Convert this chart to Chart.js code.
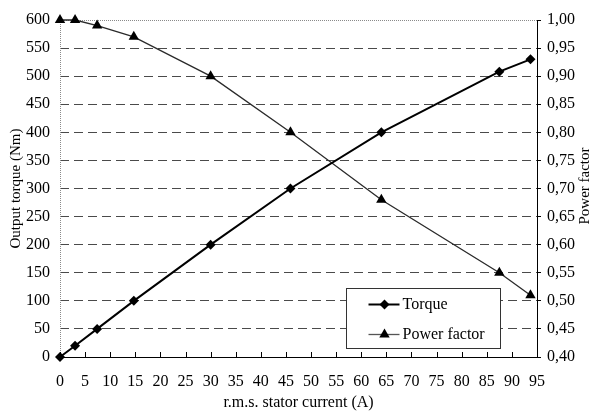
<!DOCTYPE html>
<html>
<head>
<meta charset="utf-8">
<script src="https://cdn.jsdelivr.net/npm/chart.js@4/dist/chart.umd.min.js"></script>
<style>
  html, body { margin: 0; padding: 0; background: #fff; }
  #wrap { width: 594px; height: 415px; }
</style>
</head>
<body>
<div id="wrap"><canvas id="motorChart" width="594" height="415"></canvas></div>
<script>
// stator current (A) shared by both curves
var current = [0, 3, 7.4, 14.7, 30, 45.9, 64, 87.5, 93.7];
var torque = [0, 20, 50, 100, 200, 300, 400, 508, 530];
var powerFactor = [1.00, 1.00, 0.99, 0.97, 0.90, 0.80, 0.68, 0.55, 0.51];
var seriesNames = ['Torque', 'Power factor'];
var rightTitle = 'Power factor';

var serif = "'Liberation Serif', 'Times New Roman', serif";
var fontSize = 16;

function points(ys) {
    var out = [];
    for (var i = 0; i < current.length; i++) {
        out.push({ x: current[i], y: ys[i] });
    }
    return out;
}

// dotted left edge, dotted top edge and inward ticks on the x axis
var frameLines = {
    id: 'frameLines',
    beforeDatasetsDraw: function(chart) {
        var ctx = chart.ctx, a = chart.chartArea, xs = chart.scales.x;
        ctx.save();
        ctx.strokeStyle = '#8a8a8a';
        ctx.lineWidth = 1;
        ctx.setLineDash([1, 1]);
        ctx.beginPath();
        ctx.moveTo(a.left + 0.5, a.top);
        ctx.lineTo(a.left + 0.5, a.bottom);
        ctx.moveTo(a.left, a.top + 0.5);
        ctx.lineTo(a.right, a.top + 0.5);
        ctx.stroke();
        ctx.setLineDash([]);
        ctx.strokeStyle = '#000';
        ctx.beginPath();
        xs.ticks.forEach(function(t) {
            var px = Math.round(xs.getPixelForValue(t.value)) + 0.5;
            ctx.moveTo(px, a.bottom);
            ctx.lineTo(px, a.bottom - 5);
        });
        ctx.stroke();
        ctx.restore();
    }
};

function marker(ctx, style, x, y) {
    ctx.beginPath();
    if (style === 'rectRot') {
        ctx.moveTo(x, y - 5); ctx.lineTo(x + 5, y); ctx.lineTo(x, y + 5); ctx.lineTo(x - 5, y);
    } else {
        ctx.moveTo(x, y - 6); ctx.lineTo(x + 5.2, y + 3); ctx.lineTo(x - 5.2, y + 3);
    }
    ctx.closePath();
    ctx.fill();
}

// boxed legend inside the plot (lower right) and the right axis title read bottom-to-top
var boxLegend = {
    id: 'boxLegend',
    afterDraw: function(chart) {
        var ctx = chart.ctx, a = chart.chartArea;
        var bx = a.left + 286.5, by = a.top + 268.5, bw = 154, bh = 60;
        ctx.save();
        ctx.fillStyle = '#fff';
        ctx.fillRect(bx, by, bw, bh);
        ctx.strokeStyle = '#333';
        ctx.lineWidth = 1;
        ctx.strokeRect(bx, by, bw, bh);
        var rows = [by + 16, by + 46];
        var styles = ['rectRot', 'triangle'];
        var colors = ['#000', '#555'];
        var widths = [2, 1.3];
        ctx.font = fontSize + 'px ' + serif;
        ctx.textBaseline = 'middle';
        for (var i = 0; i < 2; i++) {
            ctx.strokeStyle = colors[i];
            ctx.lineWidth = widths[i];
            ctx.beginPath();
            ctx.moveTo(bx + 22, rows[i]);
            ctx.lineTo(bx + 53, rows[i]);
            ctx.stroke();
            ctx.fillStyle = '#000';
            marker(ctx, styles[i], bx + 38, rows[i]);
            ctx.fillText(seriesNames[i], bx + 56, rows[i]);
        }
        ctx.font = '15px ' + serif;
        ctx.translate(585, 186);
        ctx.rotate(-Math.PI / 2);
        ctx.textAlign = 'center';
        ctx.fillText(rightTitle, 0, 0);
        ctx.restore();
    }
};

var ctx1 = document.getElementById('motorChart').getContext('2d');
var chart1 = new Chart(ctx1, {
    type: 'line',
    data: {
        datasets: [{
            label: seriesNames[0],
            data: points(torque),
            yAxisID: 'y',
            borderColor: '#000',
            backgroundColor: '#000',
            borderWidth: 2,
            pointStyle: 'rectRot',
            pointRadius: 5,
            pointBorderWidth: 0,
            tension: 0,
            clip: false
        }, {
            label: seriesNames[1],
            data: points(powerFactor),
            yAxisID: 'y1',
            borderColor: '#2a2a2a',
            backgroundColor: '#000',
            borderWidth: 1.3,
            pointStyle: 'triangle',
            pointRadius: 6,
            pointBorderWidth: 0,
            tension: 0,
            clip: false
        }]
    },
    plugins: [frameLines, boxLegend],
    options: {
        responsive: false,
        animation: false,
        layout: { padding: { top: 20, left: 0, right: 0, bottom: 0 } },
        plugins: {
            legend: { display: false },
            tooltip: { enabled: false }
        },
        scales: {
            x: {
                type: 'linear',
                min: 0,
                max: 95,
                afterFit: function(s) { s.height = 58; },
                ticks: { stepSize: 5, color: '#000', font: { family: serif, size: fontSize }, padding: 15, maxRotation: 0 },
                grid: { drawOnChartArea: false, drawTicks: false },
                border: { color: '#000', width: 1 },
                title: { display: true, text: 'r.m.s. stator current (A)', color: '#000', font: { family: serif, size: fontSize }, padding: { top: 4, bottom: 3 } }
            },
            y: {
                position: 'left',
                min: 0,
                max: 600,
                afterFit: function(s) { s.width = 60; },
                ticks: { stepSize: 50, color: '#000', font: { family: serif, size: fontSize }, padding: 10 },
                grid: {
                    drawTicks: false,
                    color: function(c) { return (c.tick && (c.tick.value === 600 || c.tick.value === 0)) ? 'rgba(0,0,0,0)' : '#4a4a4a'; }
                },
                border: { display: false, dash: [9, 5] },
                title: { display: true, text: 'Output torque (Nm)', color: '#000', font: { family: serif, size: 15 }, padding: { top: 7, bottom: 0 } }
            },
            y1: {
                position: 'right',
                min: 0.4,
                max: 1.0,
                afterFit: function(s) { s.width = 57; },
                ticks: {
                    stepSize: 0.05,
                    color: '#000',
                    font: { family: serif, size: fontSize },
                    padding: 6,
                    callback: function(v) { return v.toFixed(2).replace('.', ','); }
                },
                grid: { drawOnChartArea: false, drawTicks: true, tickLength: 4, color: '#000' },
                border: { color: '#000', width: 1 }
            }
        }
    }
});
</script>
</body>
</html>
